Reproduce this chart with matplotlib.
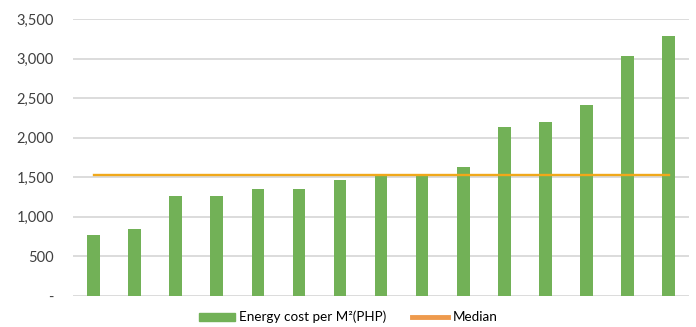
import matplotlib.pyplot as plt
from matplotlib.lines import Line2D
from matplotlib.patches import Patch

# energy cost per square metre, sorted ascending
costs = [775, 850, 1265, 1265, 1355, 1355, 1470, 1545, 1545, 1630, 2135, 2200, 2410, 3030, 3285]
median = 1530
yticks = [0, 500, 1000, 1500, 2000, 2500, 3000, 3500]
ylabels = ['-', '500', '1,000', '1,500', '2,000', '2,500', '3,000', '3,500']

plt.rcParams['font.family'] = ['Lato', 'DejaVu Sans']

fig = plt.figure(figsize=(6.96, 3.27), dpi=100)
ax = fig.add_axes([0.105, 0.095, 0.885, 0.847])

x = list(range(len(costs)))
ax.bar(x, costs, width=0.31, color='#72B157', zorder=3)
ax.plot([x[0], x[-1]], [median, median], color='#F0A81A', lw=1.7, zorder=4)

ax.set_xlim(-0.5, len(costs) - 0.5)
ax.set_ylim(0, 3500)
ax.set_yticks(yticks)
ax.set_yticklabels(ylabels, fontsize=10.5, color='#404040')
ax.set_xticks([])
ax.tick_params(axis='y', length=0, pad=14)
ax.grid(axis='y', color='#D9D9D9', lw=1.3, zorder=0)
ax.set_axisbelow(True)
for s in ax.spines.values():
    s.set_visible(False)

handles = [Patch(color='#72B157'), Line2D([], [], color='#EE9A4D', lw=3.5)]
labels = ['Energy cost per M²(PHP)', 'Median']
fig.legend(handles, labels, loc='center', bbox_to_anchor=(0.5, 0.03), ncol=2,
           frameon=False, fontsize=9.7, handlelength=2.7, handleheight=0.5,
           columnspacing=1.9, handletextpad=0.3)

plt.savefig('out.png', dpi=100)
